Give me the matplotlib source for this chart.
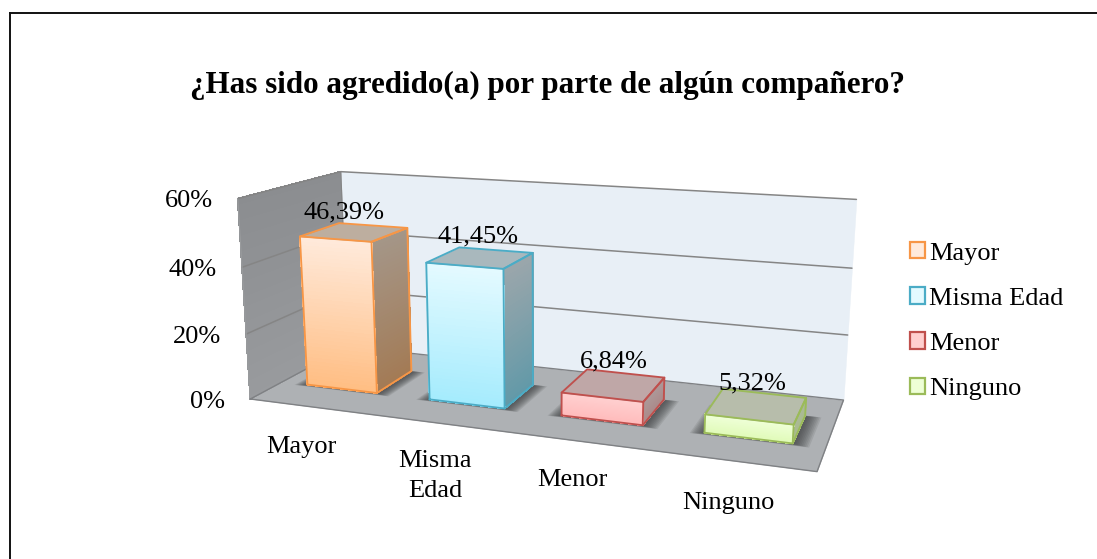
import numpy as np
import matplotlib
matplotlib.use('Agg')
import matplotlib.pyplot as plt
from matplotlib.colors import to_rgb
from matplotlib.lines import Line2D
from matplotlib.patches import Patch
from mpl_toolkits.mplot3d import proj3d
from mpl_toolkits.mplot3d.art3d import Poly3DCollection

plt.rcParams['font.family'] = ['Liberation Serif', 'DejaVu Serif']

TITLE = '¿Has sido agredido(a) por parte de algún compañero?'
categories = ['Mayor', 'Misma Edad', 'Menor', 'Ninguno']
tick_names = ['Mayor', 'Misma\nEdad', 'Menor', 'Ninguno']
values = [46.39, 41.45, 6.84, 5.32]
value_labels = ['46,39%', '41,45%', '6,84%', '5,32%']
y_ticks = [0, 20, 40, 60]
y_tick_labels = ['0%', '20%', '40%', '60%']

# per bar colours
edge = ['#f79646', '#4bacc6', '#c0504d', '#9bbb59']
front_top = ['#ffeadb', '#e4faff', '#ffcfcf', '#eeffd6']
front_bot = ['#ffbd82', '#a4ebfd', '#ffbaba', '#dffab6']
side_top = ['#a49688', '#9ba6ab', '#ac9898', '#aab89a']
side_bot = ['#a37a54', '#6199a8', '#ab8888', '#a9bd85']
roof = ['#bdae9f', '#a9b8bd', '#bfa7a7', '#b7bdab']

BAR_W = 0.5781 / 4
BAR_D = 0.1986
ZMAX = 60


def strips(corners, c0, c1, n=40):
    '''splits a quad (bottom edge, then top edge) into n strips, c1 at the bottom and c0 at the top'''
    a, b, c, d = [np.array(p, float) for p in corners]
    polys, cols = [], []
    c0, c1 = np.array(to_rgb(c0)), np.array(to_rgb(c1))
    for k in range(n):
        t0, t1 = k / n, (k + 1) / n
        polys.append([a + (d - a) * t0, b + (c - b) * t0, b + (c - b) * t1, a + (d - a) * t1])
        cols.append(c1 + (c0 - c1) * (t0 + t1) / 2)
    return polys, cols


def add_poly(ax, polys, face, lw=0.0, z=1, alpha=None, aa=True):
    coll = Poly3DCollection(polys, facecolors=face, edgecolors=face, linewidths=lw, alpha=alpha,
                            antialiaseds=aa)
    coll.set_zorder(z)
    coll.set_clip_on(False)
    ax.add_collection3d(coll)
    return coll


def add_line(ax, xs, ys, zs, color, lw, z):
    line, = ax.plot(xs, ys, zs, color=color, lw=lw, zorder=z, solid_capstyle='round', solid_joinstyle='round')
    line.set_clip_on(False)


def label_at(ax, x, y, z, text, dx, dy, ha):
    # plain 2d text on the projected point, offset given in pixels (dy up)
    tx, ty, _ = proj3d.proj_transform(x, y, z, ax.get_proj())
    ax.annotate(text, xy=(tx, ty), xycoords='data', xytext=(dx * 0.72, dy * 0.72),
                textcoords='offset points', ha=ha, va='center', fontsize=19, color='black',
                annotation_clip=False, zorder=60)


fig = plt.figure(figsize=(10.97, 5.59), dpi=100)

ax = fig.add_axes([0.1, 0.1, 0.5, 0.5], projection='3d', computed_zorder=False)
ax.set_xlim(0, 1)
ax.set_ylim(0, 1)
ax.set_zlim(0, ZMAX)
ax.set_box_aspect((1, np.exp(-1.0306), np.exp(-1.0155)))
ax.view_init(elev=14.095, azim=-70.198, roll=-0.045)
ax.set_proj_type('persp', focal_length=np.exp(-1.0334))
ax.set_axis_off()
ax.patch.set_visible(False)

# put the axes where the projected box lands in the 1097x559 picture
s, ox, oy = 3358.195, 546.754, 301.378
(x0, y0), (x1, y1) = ax.viewLim.get_points()
ax.set_position([(ox + s * x0) / 1097, (559 - (oy - s * y0)) / 559,
                 s * (x1 - x0) / 1097, s * (y1 - y0) / 559])

# walls and floor
polys, cols = strips([(0, 0, 0), (0, 1, 0), (0, 1, ZMAX), (0, 0, ZMAX)], '#8b8d90', '#999b9e')
add_poly(ax, polys, cols, lw=0.6, z=1, aa=False)
add_poly(ax, [[(0, 1, 0), (1, 1, 0), (1, 1, ZMAX), (0, 1, ZMAX)]], '#e8eff6', lw=0.3, z=1)
add_poly(ax, [[(0, 0, 0), (1, 0, 0), (1, 1, 0), (0, 1, 0)]], '#aeb1b4', lw=0, z=2)

# gridlines
for t in y_ticks[1:]:
    add_line(ax, [0, 0, 1], [0, 1, 1], [t, t, t], '#858585', 1.1, 3)
add_line(ax, [0, 0], [1, 1], [0, ZMAX], '#858585', 0.8, 3)
add_line(ax, [0, 0], [0, 0], [0, ZMAX], '#9a9c9e', 0.8, 3)
add_line(ax, [0, 1, 1, 0, 0], [0, 0, 1, 1, 0], [0, 0, 0, 0, 0], '#7f8184', 1.0, 3)

# bars, left to right
for i, v in enumerate(values):
    c = (i + 0.5) / 4
    xa, xb = c - BAR_W / 2, c + BAR_W / 2
    ya, yb = 0.5 - BAR_D, 0.5 + BAR_D
    zo = 5 + i * 5

    # soft shadow on the floor
    for grow in np.linspace(0.024, 0.002, 10):
        add_poly(ax, [[(xa - grow, ya - grow * 0.9, 0), (xb + grow * 1.1, ya - grow * 0.9, 0),
                       (xb + grow * 1.1, yb + grow * 0.3, 0), (xa - grow, yb + grow * 0.3, 0)]],
                 '#3c3e40', lw=0, z=zo, alpha=0.12)

    polys, cols = strips([(xb, ya, 0), (xb, yb, 0), (xb, yb, v), (xb, ya, v)], side_top[i], side_bot[i])
    add_poly(ax, polys, cols, lw=0.6, z=zo + 1, aa=False)
    polys, cols = strips([(xa, ya, 0), (xb, ya, 0), (xb, ya, v), (xa, ya, v)], front_top[i], front_bot[i])
    add_poly(ax, polys, cols, lw=0.6, z=zo + 1, aa=False)
    add_poly(ax, [[(xa, ya, v), (xb, ya, v), (xb, yb, v), (xa, yb, v)]], roof[i], lw=0.3, z=zo + 1)

    # outline
    add_line(ax, [xa, xb, xb, xa, xa], [ya, ya, ya, ya, ya], [0, 0, v, v, 0], edge[i], 1.35, zo + 2)
    add_line(ax, [xb, xb, xb, xb], [ya, yb, yb, ya], [0, 0, v, v], edge[i], 1.35, zo + 2)
    add_line(ax, [xa, xa, xb, xb], [ya, yb, yb, ya], [v, v, v, v], edge[i], 1.35, zo + 2)

# value labels above the top of each bar
value_off = [(-11, 20), (-2, 21), (0, 24), (-4, 23)]
for i, v in enumerate(values):
    label_at(ax, (i + 0.5) / 4, 0.5, v, value_labels[i], value_off[i][0], value_off[i][1], 'center')

# y tick labels, left of the front wall edge
for t, lab in zip(y_ticks, y_tick_labels):
    label_at(ax, 0, 0, t, lab, -25, -2.5, 'right')

# category labels below the floor
cat_xy = [(301, 447), (435, 476), (572, 480), (728, 503)]
for name, (px, py) in zip(tick_names, cat_xy):
    fig.text(px / 1097, 1 - py / 559, name, ha='center', va='center', fontsize=19, color='black',
             linespacing=1.5)

fig.text(548 / 1097, 1 - 85 / 559, TITLE, ha='center', va='center', fontsize=22.45, fontweight='bold',
         color='black')

handles = [Patch(facecolor=front_top[i], edgecolor=edge[i], linewidth=1.6) for i in range(4)]
fig.legend(handles, categories, loc='upper left', bbox_to_anchor=(910 / 1097, 1 - 242 / 559),
           frameon=False, fontsize=19, handlelength=0.58, handleheight=0.58, handletextpad=0.15,
           labelspacing=0.86, borderpad=0, borderaxespad=0)

# outer frame of the picture
for xs, ys in [([9.5, 9.5], [559, 12.5]), ([9.5, 1097], [12.5, 12.5])]:
    fig.add_artist(Line2D([x / 1097 for x in xs], [1 - y / 559 for y in ys], color='#111111', lw=1.4))

fig.savefig('out.png', dpi=100)
